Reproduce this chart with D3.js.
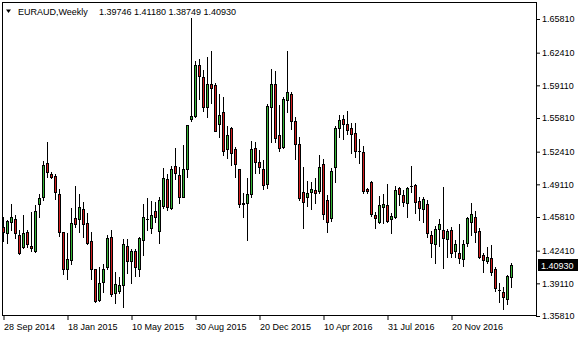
<!DOCTYPE html>
<html>
<head>
<meta charset="utf-8">
<script src="https://cdn.jsdelivr.net/npm/d3@7"></script>
<style>
  body { margin: 0; background: #fff; }
  svg { display: block; font-family: "Liberation Sans", Arial, sans-serif; }
</style>
</head>
<body>
<svg id="chart" width="580" height="340"></svg>
<script>
// weekly EURAUD bars, first bar is the week of 28 Sep 2014
var firstWeek = "2014-09-28";

var opens = [
  1.4483, 1.4416, 1.4527, 1.4558, 1.4396, 1.4281, 1.4426, 1.4288,
  1.4241, 1.4709, 1.4786, 1.5123, 1.5015, 1.4995, 1.4813, 1.4426,
  1.4053, 1.4147, 1.4571, 1.4558, 1.4659, 1.4517, 1.4339, 1.4053,
  1.3743, 1.3927, 1.4079, 1.4382, 1.3810, 1.3837, 1.3891, 1.4285,
  1.4132, 1.4238, 1.4053, 1.4347, 1.4556, 1.4467, 1.4642, 1.4435,
  1.4695, 1.4962, 1.4675, 1.5096, 1.5005, 1.4780, 1.5063, 1.5568,
  1.5601, 1.6116, 1.5992, 1.5695, 1.5924, 1.5914, 1.5517, 1.5642,
  1.5265, 1.5477, 1.5265, 1.5063, 1.4725, 1.4725, 1.4810, 1.5275,
  1.5140, 1.5064, 1.4911, 1.5689, 1.5924, 1.5409, 1.5291, 1.5763,
  1.5823, 1.5551, 1.5315, 1.4830, 1.4780, 1.4837, 1.4854, 1.4847,
  1.5113, 1.4753, 1.4568, 1.5083, 1.5483, 1.5568, 1.5520, 1.5477,
  1.5426, 1.5250, 1.5235, 1.4861, 1.4932, 1.4601, 1.4534, 1.4685,
  1.4702, 1.4558, 1.4578, 1.4871, 1.4803, 1.4725, 1.4892, 1.4904,
  1.4743, 1.4659, 1.4712, 1.4399, 1.4305, 1.4463, 1.4450, 1.4356,
  1.4450, 1.4241, 1.4214, 1.4154, 1.4315, 1.4527, 1.4578, 1.4443,
  1.4197, 1.4140, 1.4164, 1.4056, 1.3846, 1.3820, 1.3750, 1.39746
];

var highs = [
  1.4584, 1.4551, 1.4712, 1.4601, 1.4450, 1.4601, 1.4450, 1.4632,
  1.4702, 1.4813, 1.5150, 1.5339, 1.5039, 1.5015, 1.4864, 1.4430,
  1.4416, 1.4669, 1.4894, 1.4813, 1.4736, 1.4618, 1.4433, 1.4056,
  1.4073, 1.4106, 1.4399, 1.4450, 1.4022, 1.3978, 1.4359, 1.4359,
  1.4255, 1.4253, 1.4376, 1.4712, 1.4768, 1.4738, 1.4733, 1.4786,
  1.5076, 1.5012, 1.5096, 1.5275, 1.5089, 1.5308, 1.5515, 1.6588,
  1.6152, 1.6174, 1.6066, 1.6200, 1.6258, 1.5938, 1.5823, 1.5790,
  1.5500, 1.5493, 1.5285, 1.5066, 1.4828, 1.4975, 1.5349, 1.5342,
  1.5258, 1.5157, 1.5722, 1.6074, 1.6056, 1.5712, 1.5796, 1.6258,
  1.5839, 1.5594, 1.5386, 1.5083, 1.4945, 1.4932, 1.4972, 1.5207,
  1.5164, 1.4803, 1.5073, 1.5500, 1.5611, 1.5611, 1.5652, 1.5527,
  1.5527, 1.5366, 1.5298, 1.4871, 1.4945, 1.4634, 1.4793, 1.4810,
  1.4911, 1.4626, 1.4894, 1.4887, 1.4854, 1.4881, 1.5096, 1.4914,
  1.4786, 1.4780, 1.4753, 1.4443, 1.4490, 1.4558, 1.4881, 1.4460,
  1.4483, 1.4349, 1.4510, 1.4349, 1.4578, 1.4725, 1.4642, 1.4467,
  1.4214, 1.4275, 1.4298, 1.4073, 1.3917, 1.3877, 1.3995, 1.41180
];

var lows = [
  1.4342, 1.4315, 1.4450, 1.4366, 1.4210, 1.4265, 1.4281, 1.4238,
  1.4231, 1.4584, 1.4753, 1.4988, 1.4972, 1.4763, 1.4392, 1.4002,
  1.3958, 1.4106, 1.4483, 1.4433, 1.4382, 1.4310, 1.3952, 1.3725,
  1.3733, 1.3826, 1.4053, 1.3783, 1.3709, 1.3810, 1.3675, 1.4018,
  1.3911, 1.3990, 1.3985, 1.4197, 1.4450, 1.4424, 1.4531, 1.4315,
  1.4672, 1.4652, 1.4659, 1.4962, 1.4725, 1.4778, 1.4988, 1.5554,
  1.5594, 1.5773, 1.5652, 1.5594, 1.5736, 1.5450, 1.5392, 1.5207,
  1.5174, 1.5106, 1.4988, 1.4685, 1.4584, 1.4346, 1.4786, 1.5029,
  1.5029, 1.4859, 1.4874, 1.5342, 1.5342, 1.5251, 1.5278, 1.5645,
  1.5470, 1.5162, 1.4753, 1.4467, 1.4692, 1.4659, 1.4719, 1.4826,
  1.4558, 1.4433, 1.4541, 1.4938, 1.5392, 1.5366, 1.5419, 1.5230,
  1.5190, 1.5130, 1.4826, 1.4820, 1.4591, 1.4473, 1.4523, 1.4523,
  1.4534, 1.4422, 1.4568, 1.4702, 1.4695, 1.4578, 1.4837, 1.4624,
  1.4551, 1.4534, 1.4382, 1.4180, 1.4119, 1.4291, 1.4069, 1.4180,
  1.4180, 1.4180, 1.4113, 1.4089, 1.4291, 1.4399, 1.4325, 1.4170,
  1.4028, 1.4119, 1.3995, 1.3837, 1.3725, 1.3649, 1.3702, 1.38749
];

var closes = [
  1.4426, 1.4541, 1.4584, 1.4416, 1.4214, 1.4416, 1.4305, 1.4271,
  1.4642, 1.4770, 1.5106, 1.5033, 1.4988, 1.4830, 1.4433, 1.4053,
  1.4154, 1.4517, 1.4513, 1.4682, 1.4507, 1.4315, 1.4053, 1.3736,
  1.3911, 1.4053, 1.4366, 1.3806, 1.3901, 1.3891, 1.4305, 1.4134,
  1.4238, 1.4079, 1.4369, 1.4578, 1.4561, 1.4599, 1.4584, 1.4753,
  1.4973, 1.4685, 1.5063, 1.5022, 1.4786, 1.5063, 1.5510, 1.5601,
  1.6116, 1.6008, 1.5695, 1.5924, 1.5881, 1.5453, 1.5611, 1.5251,
  1.5409, 1.5224, 1.5113, 1.4709, 1.4712, 1.4810, 1.5265, 1.5140,
  1.5083, 1.4902, 1.5702, 1.5922, 1.5384, 1.5281, 1.5773, 1.5844,
  1.5554, 1.5315, 1.4770, 1.4730, 1.4820, 1.4864, 1.4826, 1.5083,
  1.4608, 1.4534, 1.5046, 1.5477, 1.5561, 1.5520, 1.5460, 1.5416,
  1.5251, 1.5246, 1.4847, 1.4847, 1.4608, 1.4568, 1.4702, 1.4712,
  1.4544, 1.4588, 1.4854, 1.4810, 1.4736, 1.4871, 1.4896, 1.4736,
  1.4675, 1.4763, 1.4422, 1.4315, 1.4460, 1.4510, 1.4372, 1.4443,
  1.4220, 1.4308, 1.4170, 1.4308, 1.4568, 1.4611, 1.4426, 1.4180,
  1.4147, 1.4180, 1.4028, 1.3861, 1.3842, 1.3770, 1.3985, 1.40930
];

var dateLabels = ["28 Sep 2014", "18 Jan 2015", "10 May 2015", "30 Aug 2015",
  "20 Dec 2015", "10 Apr 2016", "31 Jul 2016", "20 Nov 2016"];
var priceTicks = [1.65810, 1.62410, 1.59110, 1.55810, 1.52410, 1.49110,
  1.45810, 1.42410, 1.39110, 1.35810];
var symbolName = "EURAUD,Weekly";

var upColor = "#36b536";
var downColor = "#d21e1e";

// frame of the plot area
var frame = { left: 2.5, top: 2.5, right: 536.5, bottom: 315.5 };

var svg = d3.select("#chart");
svg.append("rect").attr("width", 580).attr("height", 340).attr("fill", "#fff");

var start = d3.timeParse("%Y-%m-%d")(firstWeek);
var bars = opens.map(function(o, i) {
  return {
    date: d3.timeWeek.offset(start, i),
    open: o, high: highs[i], low: lows[i], close: closes[i]
  };
});
var last = bars[bars.length - 1];

var x = d3.scaleTime()
  .domain([bars[0].date, last.date])
  .range([3.5, 511.5]);

var y = d3.scaleLinear()
  .domain([1.35810, 1.65810])
  .range([316, 19]);

function cx(d) { return Math.floor(x(d.date)) + 0.5; }

// candles
var g = svg.append("g").attr("shape-rendering", "crispEdges");

g.selectAll(".wick")
  .data(bars)
  .enter()
  .append("line")
  .attr("class", "wick")
  .attr("x1", cx).attr("x2", cx)
  .attr("y1", function(d) { return Math.round(y(d.high)); })
  .attr("y2", function(d) { return Math.round(y(d.low)) + 1; })
  .attr("stroke", "#000")
  .attr("stroke-width", 1);

g.selectAll(".body")
  .data(bars)
  .enter()
  .append("rect")
  .attr("class", "body")
  .attr("x", function(d) { return cx(d) - 1.5; })
  .attr("y", function(d) { return Math.round(y(Math.max(d.open, d.close))); })
  .attr("width", 3)
  .attr("height", function(d) {
    return Math.max(Math.round(y(Math.min(d.open, d.close))) - Math.round(y(Math.max(d.open, d.close))), 0) + 1;
  })
  .attr("fill", "#000");

g.selectAll(".fill")
  .data(bars.filter(function(d) {
    return Math.round(y(Math.min(d.open, d.close))) - Math.round(y(Math.max(d.open, d.close))) >= 2;
  }))
  .enter()
  .append("rect")
  .attr("class", "fill")
  .attr("x", function(d) { return cx(d) - 0.5; })
  .attr("y", function(d) { return Math.round(y(Math.max(d.open, d.close))) + 1; })
  .attr("width", 1)
  .attr("height", function(d) {
    return Math.round(y(Math.min(d.open, d.close))) - Math.round(y(Math.max(d.open, d.close))) - 1;
  })
  .attr("fill", function(d) { return d.close >= d.open ? upColor : downColor; });

// frame
svg.append("rect")
  .attr("x", frame.left).attr("y", frame.top)
  .attr("width", frame.right - frame.left)
  .attr("height", frame.bottom - frame.top)
  .attr("fill", "none")
  .attr("stroke", "#000")
  .attr("stroke-width", 1);

// price axis on the right
var yAxis = d3.axisRight(y)
  .tickValues(priceTicks)
  .tickSize(4)
  .tickPadding(2)
  .tickFormat(d3.format(".5f"));

var ya = svg.append("g")
  .attr("transform", "translate(536,0)")
  .call(yAxis);
ya.select(".domain").remove();
ya.selectAll("text").attr("font-size", 9).attr("font-family", "Liberation Sans, Arial, sans-serif").attr("fill", "#000");
ya.selectAll("line").attr("stroke", "#000");

// date axis at the bottom
var parseLabel = d3.timeParse("%d %b %Y");
var xAxis = d3.axisBottom(x)
  .tickValues(dateLabels.map(parseLabel))
  .tickSize(4)
  .tickPadding(4)
  .tickFormat(d3.timeFormat("%d %b %Y"));

var xa = svg.append("g")
  .attr("transform", "translate(0,316)")
  .call(xAxis);
xa.select(".domain").remove();
xa.selectAll("text")
  .attr("text-anchor", "start")
  .attr("font-size", 9)
  .attr("font-family", "Liberation Sans, Arial, sans-serif")
  .attr("fill", "#000");
xa.selectAll("line").attr("stroke", "#000");

// current price marker
svg.append("rect")
  .attr("x", 538).attr("y", Math.round(y(last.close)) - 6)
  .attr("width", 40).attr("height", 12)
  .attr("fill", "#000");
svg.append("text")
  .attr("x", 541).attr("y", y(last.close) + 3.5)
  .attr("font-size", 9)
  .attr("fill", "#fff")
  .text(d3.format(".5f")(last.close));

// header
svg.append("path")
  .attr("d", "M6,9.5 L11,9.5 L8.5,13 Z")
  .attr("fill", "#000");
svg.append("text")
  .attr("x", 18).attr("y", 15)
  .attr("font-size", 9)
  .attr("fill", "#000")
  .text(symbolName);
svg.append("text")
  .attr("x", 99).attr("y", 15)
  .attr("font-size", 9)
  .attr("fill", "#000")
  .text([last.open, last.high, last.low, last.close].map(d3.format(".5f")).join(" "));
</script>
</body>
</html>
